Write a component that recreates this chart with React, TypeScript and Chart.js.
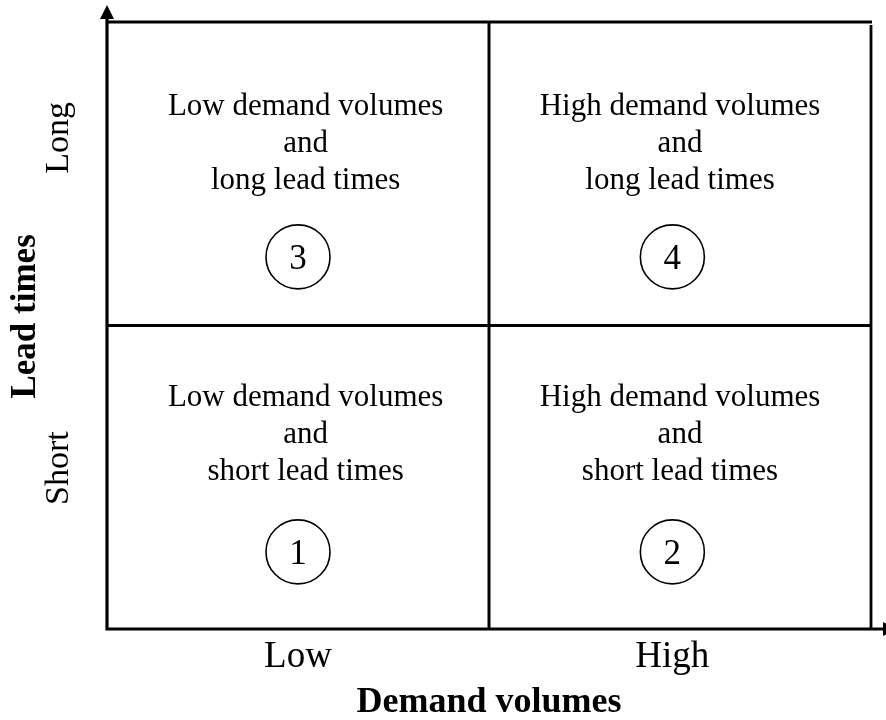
import React, { useEffect, useRef } from "react";
import { Chart, registerables } from "chart.js";

Chart.register(...registerables);

// Axis categories (tick labels) and their positions in data units
const xCategories = ["Low", "High"];
const xCategoryPos = [0.5, 1.48];
const yCategories = ["Short", "Long"];
const yCategoryPos = [0.53, 1.618];

const xTitle = "Demand volumes";
const yTitle = "Lead times";

// Quadrants
const quadrantNumbers = ["1", "2", "3", "4"];
const quadrantCircleX = [0.5, 1.48, 0.5, 1.48];
const quadrantCircleY = [0.254, 0.254, 1.226, 1.226];
const quadrantTextX = [0.52, 1.5, 0.52, 1.5];
const quadrantTextY = [0.613, 0.613, 1.572, 1.572];
const quadrantLines = [
  ["Low demand volumes", "and", "short lead times"],
  ["High demand volumes", "and", "short lead times"],
  ["Low demand volumes", "and", "long lead times"],
  ["High demand volumes", "and", "long lead times"],
];

const SERIF = '"Liberation Serif", "Times New Roman", serif';

const matrixPlugin = {
  id: "matrixPlugin",
  beforeDatasetsDraw(chart: any) {
    const { ctx, scales } = chart;
    const xs = scales.x;
    const ys = scales.y;
    const x0 = xs.getPixelForValue(0);
    const x1 = xs.getPixelForValue(1);
    const x2 = xs.getPixelForValue(2);
    const y0 = ys.getPixelForValue(0);
    const y1 = ys.getPixelForValue(1);
    const y2 = ys.getPixelForValue(2);
    ctx.save();
    ctx.strokeStyle = "#000";
    ctx.fillStyle = "#000";
    ctx.lineCap = "butt";
    // top & right border
    ctx.lineWidth = 2.8;
    ctx.beginPath();
    ctx.moveTo(x0, y2);
    ctx.lineTo(x2 + 1, y2);
    ctx.moveTo(x2, y2 + 3);
    ctx.lineTo(x2, y0);
    ctx.stroke();
    // middle lines
    ctx.lineWidth = 3;
    ctx.beginPath();
    ctx.moveTo(x1, y2);
    ctx.lineTo(x1, y0);
    ctx.moveTo(x0, y1);
    ctx.lineTo(x2, y1);
    ctx.stroke();
    // axes
    ctx.lineWidth = 3.2;
    ctx.beginPath();
    ctx.moveTo(x0, y0 + 1.5);
    ctx.lineTo(x0, 16);
    ctx.moveTo(x0 - 1.5, y0);
    ctx.lineTo(884, y0);
    ctx.stroke();
    // arrow heads
    ctx.beginPath();
    ctx.moveTo(x0, 5);
    ctx.lineTo(x0 - 7, 19);
    ctx.lineTo(x0 + 7, 19);
    ctx.closePath();
    ctx.fill();
    ctx.beginPath();
    ctx.moveTo(897, y0);
    ctx.lineTo(883, y0 - 7);
    ctx.lineTo(883, y0 + 7);
    ctx.closePath();
    ctx.fill();

    // quadrant texts
    ctx.font = `31px ${SERIF}`;
    ctx.textAlign = "center";
    ctx.textBaseline = "alphabetic";
    quadrantLines.forEach((lines, i) => {
      const cx = xs.getPixelForValue(quadrantTextX[i]);
      const cy = ys.getPixelForValue(quadrantTextY[i]);
      lines.forEach((line, j) => {
        ctx.fillText(line, cx, cy + (j - 1) * 37);
      });
    });

    // x tick labels
    ctx.font = `37px ${SERIF}`;
    xCategories.forEach((lab, i) => {
      ctx.fillText(lab, xs.getPixelForValue(xCategoryPos[i]), ys.getPixelForValue(-0.125));
    });
    // x title
    ctx.font = `bold 36px ${SERIF}`;
    ctx.fillText(xTitle, xs.getPixelForValue(1.0), ys.getPixelForValue(-0.273));

    // y tick labels (rotated)
    ctx.font = `34px ${SERIF}`;
    yCategories.forEach((lab, i) => {
      ctx.save();
      ctx.translate(xs.getPixelForValue(-0.102), ys.getPixelForValue(yCategoryPos[i]));
      ctx.rotate(-Math.PI / 2);
      ctx.fillText(lab, 0, 0);
      ctx.restore();
    });
    // y title
    ctx.font = `bold 35px ${SERIF}`;
    ctx.save();
    ctx.translate(xs.getPixelForValue(-0.188), ys.getPixelForValue(1.03));
    ctx.rotate(-Math.PI / 2);
    ctx.fillText(yTitle, 0, 0);
    ctx.restore();
    ctx.restore();
  },
  afterDatasetsDraw(chart: any) {
    const { ctx, scales } = chart;
    ctx.save();
    ctx.fillStyle = "#000";
    ctx.font = `35px ${SERIF}`;
    ctx.textAlign = "center";
    ctx.textBaseline = "alphabetic";
    quadrantNumbers.forEach((n, i) => {
      const cx = scales.x.getPixelForValue(quadrantCircleX[i]);
      const cy = scales.y.getPixelForValue(quadrantCircleY[i]);
      ctx.fillText(n, cx, cy + 35 * 0.34);
    });
    ctx.restore();
  },
};

export default function App() {
  const ref = useRef<HTMLCanvasElement>(null);
  useEffect(() => {
    document.body.style.margin = "0";
    const canvas = ref.current!;
    const chart = new Chart(canvas, {
      type: "scatter",
      data: {
        datasets: [
          {
            data: quadrantCircleX.map((x, i) => ({ x, y: quadrantCircleY[i] })),
            pointRadius: 32,
            pointHoverRadius: 32,
            pointBackgroundColor: "#fff",
            pointBorderColor: "#000",
            pointBorderWidth: 1.6,
            showLine: false,
            clip: false,
          },
        ],
      },
      options: {
        responsive: false,
        animation: false,
        events: [],
        layout: { autoPadding: false, padding: { left: 107, right: 15, top: 22, bottom: 91 } },
        plugins: { legend: { display: false }, tooltip: { enabled: false } },
        scales: {
          x: { type: "linear", min: 0, max: 2, display: false },
          y: { type: "linear", min: 0, max: 2, display: false },
        },
      },
      plugins: [matrixPlugin],
    });
    return () => chart.destroy();
  }, []);
  return <canvas ref={ref} width={886} height={720} style={{ display: "block" }} />;
}
